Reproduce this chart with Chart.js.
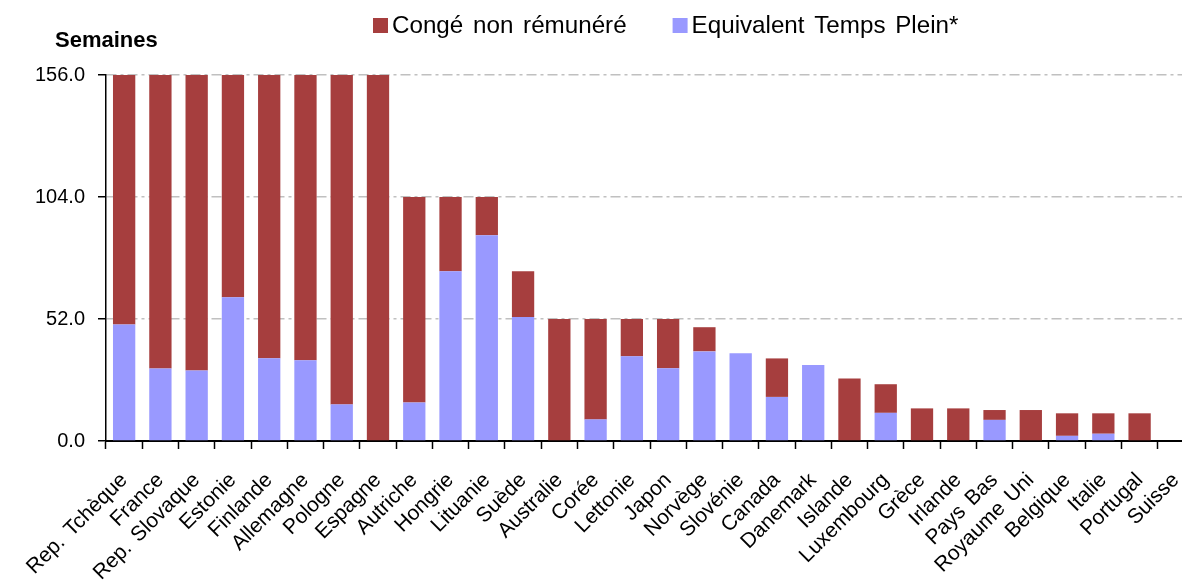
<!DOCTYPE html>
<html>
<head>
<meta charset="utf-8">
<script src="https://cdn.jsdelivr.net/npm/chart.js"></script>
<style>
    body { margin: 0; overflow: hidden; background: #fff; }
    #leaveChart { display: block; }
</style>
</head>
<body>
<canvas id="leaveChart" width="1200" height="582"></canvas>
<script>
// Data (weeks)
const countries = ['Rep. Tchèque', 'France', 'Rep. Slovaque', 'Estonie', 'Finlande', 'Allemagne', 'Pologne', 'Espagne',
    'Autriche', 'Hongrie', 'Lituanie', 'Suède', 'Australie', 'Corée', 'Lettonie', 'Japon', 'Norvège', 'Slovénie',
    'Canada', 'Danemark', 'Islande', 'Luxembourg', 'Grèce', 'Irlande', 'Pays Bas', 'Royaume Uni', 'Belgique',
    'Italie', 'Portugal', 'Suisse'];
const fullTimeEquivalent = [49.7, 30.9, 30.1, 61.3, 35.3, 34.4, 15.6, 0, 16.4, 72.3, 87.7, 52.9, 0, 9.2, 36.1, 31.0,
    38.2, 37.4, 18.8, 32.4, 0, 12.0, 0, 0, 9.0, 0, 2.2, 3.1, 0, 0];
const unpaidLeave = [106.3, 125.1, 125.9, 94.7, 120.7, 121.6, 140.4, 156, 87.6, 31.7, 16.3, 19.4, 52, 42.8, 15.9, 21.0,
    10.3, 0, 16.4, 0, 26.6, 12.2, 13.9, 13.9, 4.2, 13.2, 9.6, 8.7, 11.8, 0];
const yTicks = [0, 52, 104, 156];

const seriesNames = ['Congé non rémunéré', 'Equivalent Temps Plein*'];
const red = '#a63e3e';
const blue = '#9999ff';
const fontFamily = '"Liberation Sans", Arial, sans-serif';

// Title "Semaines" and the legend line at the top
const headerPlugin = {
    id: 'header',
    beforeDraw(chart) {
        // the source renders spaces a bit wider
        chart.ctx.wordSpacing = '3px';
    },
    afterDraw(chart) {
        const ctx = chart.ctx;
        ctx.save();
        ctx.fillStyle = '#000';
        ctx.font = 'bold 22px ' + fontFamily;
        ctx.textBaseline = 'alphabetic';
        ctx.fillText('Semaines', 55, 47);

        ctx.font = '24.2px ' + fontFamily;
        ctx.textBaseline = 'middle';
        let x = 373;
        [1, 0].forEach(i => {
            const ds = chart.data.datasets[i];
            ctx.fillStyle = ds.backgroundColor;
            ctx.fillRect(x, 18, 15, 15);
            ctx.fillStyle = '#000';
            ctx.fillText(ds.label, x + 19, 26);
            x += 19 + ctx.measureText(ds.label).width + 46;
        });
        ctx.restore();
    }
};

const ctx = document.getElementById('leaveChart').getContext('2d');

new Chart(ctx, {
    type: 'bar',
    data: {
        labels: countries,
        datasets: [
            {
                label: seriesNames[1],
                data: fullTimeEquivalent,
                backgroundColor: blue,
                borderWidth: 0
            },
            {
                label: seriesNames[0],
                data: unpaidLeave,
                backgroundColor: red,
                borderWidth: 0
            }
        ]
    },
    options: {
        responsive: false,
        animation: false,
        layout: {
            padding: { left: 0, right: 6, top: 75, bottom: 0 }
        },
        datasets: {
            bar: { barPercentage: 0.615, categoryPercentage: 1 }
        },
        plugins: {
            legend: { display: false }
        },
        scales: {
            x: {
                stacked: true,
                afterFit(scale) {
                    scale.height = 141;
                    scale.paddingLeft = 0;
                    scale.paddingRight = 0;
                },
                grid: {
                    drawOnChartArea: false,
                    tickLength: 8,
                    tickColor: '#000',
                    tickWidth: 1.5
                },
                border: { color: '#000', width: 2 },
                ticks: {
                    autoSkip: false,
                    minRotation: 45,
                    maxRotation: 45,
                    padding: 19,
                    color: '#000',
                    font: { family: fontFamily, size: 21 }
                }
            },
            y: {
                stacked: true,
                min: 0,
                max: 156,
                afterFit(scale) { scale.width = 106; },
                afterBuildTicks(scale) {
                    scale.ticks = yTicks.map(v => ({ value: v }));
                },
                grid: {
                    color: c => (c.tick && c.tick.value === 0) ? 'rgba(0,0,0,0)' : '#c0c0c0',
                    lineWidth: 1.5,
                    tickLength: 8,
                    tickColor: '#000',
                    tickWidth: 1.5
                },
                border: { color: '#000', width: 1.5, dash: [10, 4, 3, 4] },
                ticks: {
                    padding: 13,
                    color: '#000',
                    font: { family: fontFamily, size: 20 },
                    callback: v => v.toFixed(1)
                }
            }
        }
    },
    plugins: [headerPlugin]
});
</script>
</body>
</html>
